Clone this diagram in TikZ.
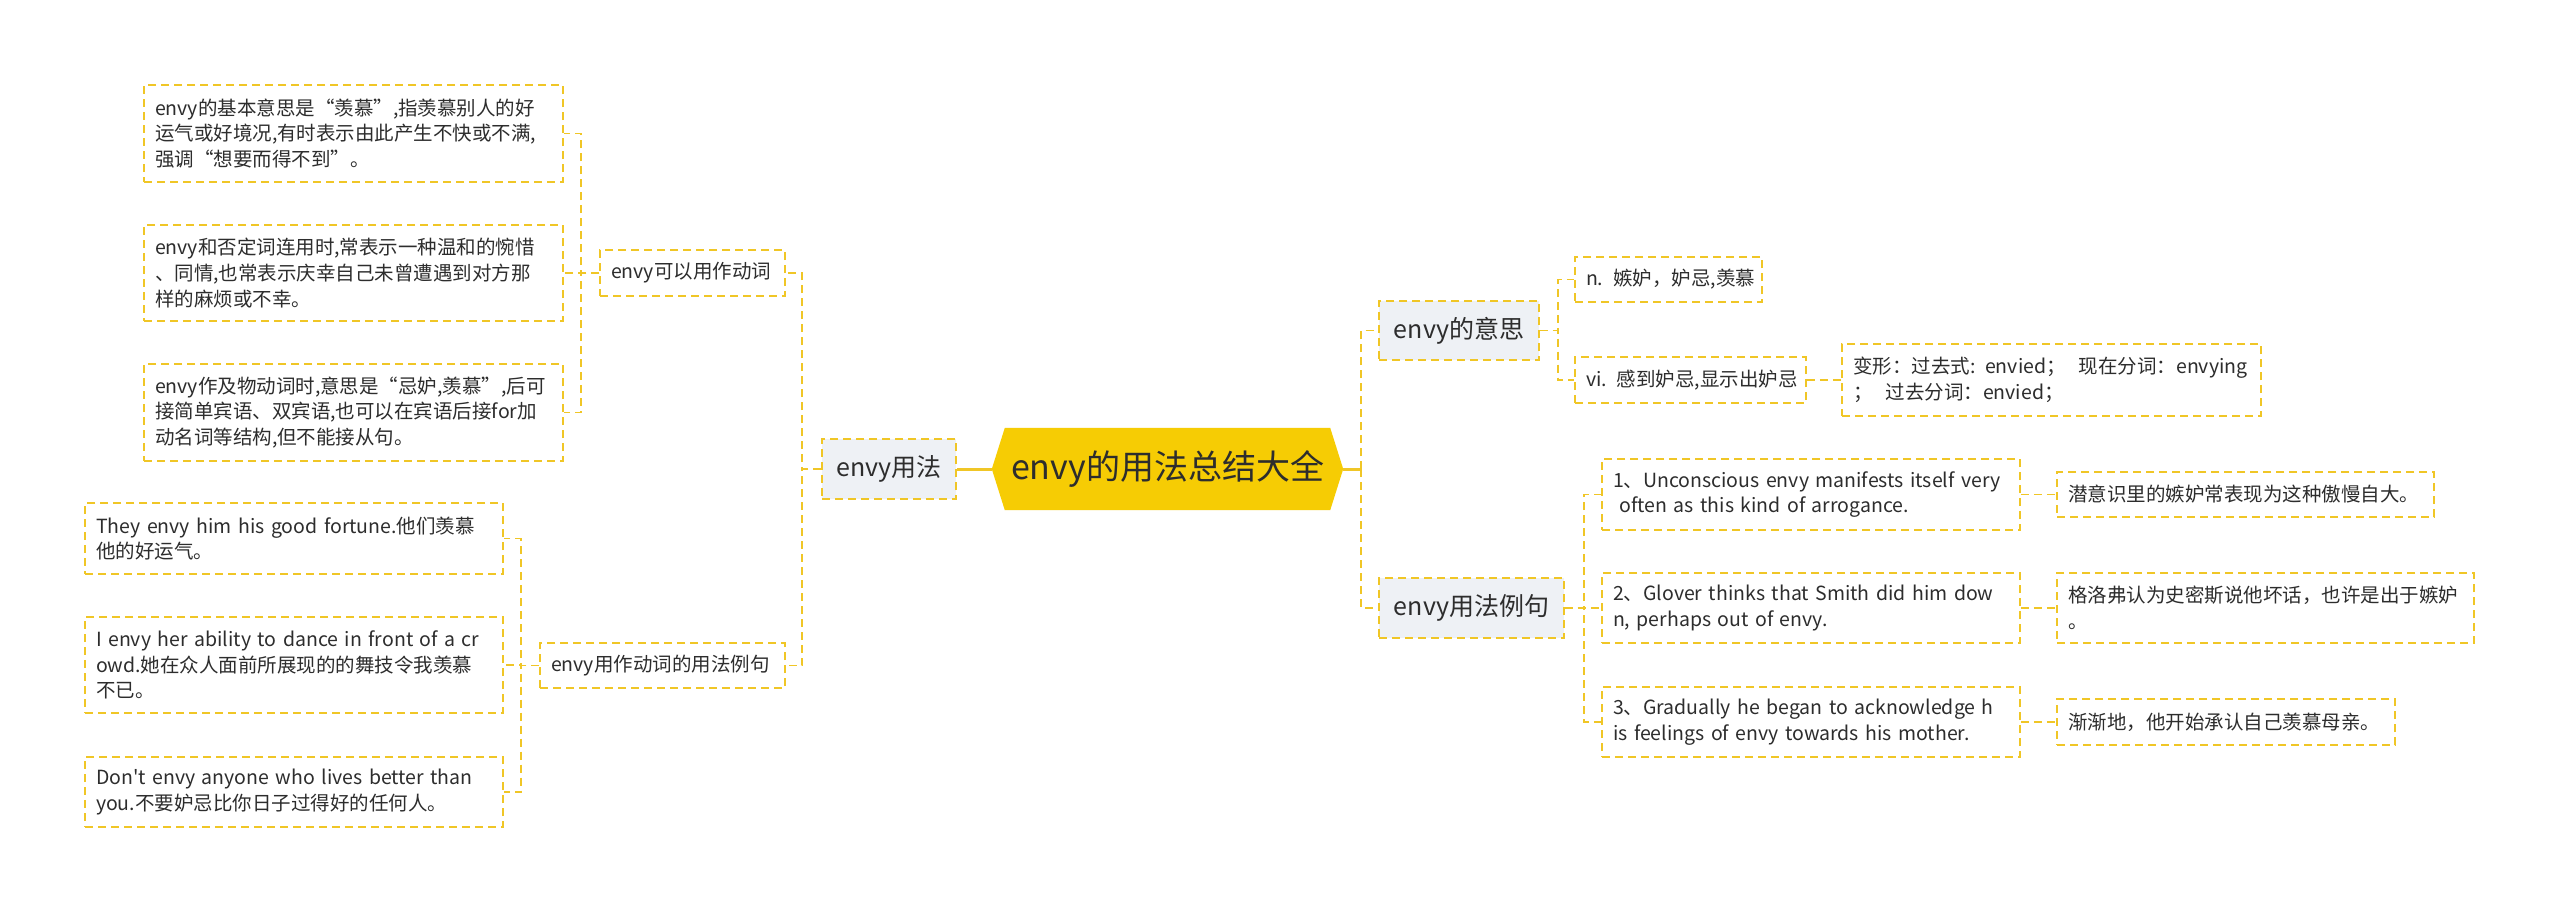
\documentclass[tikz,border=0pt]{standalone}
\usepackage{fontspec}
\setmainfont{Noto Sans CJK SC}[Ligatures=TeXOff]
\usetikzlibrary{backgrounds}
\definecolor{ylw}{RGB}{240,198,38}
\definecolor{rootfill}{RGB}{246,204,4}
\definecolor{lvfill}{RGB}{238,241,245}
\definecolor{txt}{RGB}{45,45,45}
\begin{document}
\begin{tikzpicture}[x=1pt,y=-1pt,
  every node/.style={inner sep=0pt, text=txt},
  dbox/.style={draw=ylw, line width=1.8pt, dash pattern=on 8pt off 5pt, align=left,
    inner xsep=11pt, inner ysep=0pt, font=\fontsize{19.5}{25.6}\selectfont},
  lone/.style={draw=ylw, line width=1.8pt, dash pattern=on 8pt off 5pt, fill=lvfill,
    align=center, font=\fontsize{25}{30}\selectfont},
  conn/.style={draw=ylw, line width=1.8pt, dash pattern=on 8pt off 5pt},
  solidconn/.style={draw=ylw, line width=3pt}]
\useasboundingbox (0,0) rectangle (2560,913);

% root
\node[font=\fontsize{34}{40}\selectfont, minimum width=351, minimum height=82] (root) at (1167.5,469) {envy的用法总结大全};

% level 1
\node[lone, minimum width=134, minimum height=60] (L) at (889,469) {envy用法};
\node[lone, minimum width=160, minimum height=59] (M) at (1459,330.5) {envy的意思};
\node[lone, minimum width=185, minimum height=60] (E) at (1471.5,608) {envy用法例句};

% level 2 left
\node[dbox, text width=163pt, minimum height=46] (V) at (692.5,273) {\mbox{envy可以用作动词}};
\node[dbox, text width=223pt, minimum height=45] (X) at (662.5,665.5) {\mbox{envy用作动词的用法例句}};

% leaves left top
\node[dbox, text width=397pt, minimum height=97] (a1) at (353.5,133.5)
  {envy的基本意思是“羡慕”,指羡慕别人的好\\运气或好境况,有时表示由此产生不快或不满,\\强调“想要而得不到”。};
\node[dbox, text width=397pt, minimum height=96] (a2) at (353.5,273)
  {envy和否定词连用时,常表示一种温和的惋惜\\、同情,也常表示庆幸自己未曾遭遇到对方那\\样的麻烦或不幸。};
\node[dbox, text width=397pt, minimum height=97] (a3) at (353.5,412.5)
  {envy作及物动词时,意思是“忌妒,羡慕”,后可\\接简单宾语、双宾语,也可以在宾语后接for加\\动名词等结构,但不能接从句。};

% leaves left bottom
\node[dbox, text width=396pt, minimum height=71] (b1) at (294,538.5)
  {\mbox{They envy him his good fortune.他们羡慕}\\他的好运气。};
\node[dbox, text width=396pt, minimum height=96] (b2) at (294,665)
  {\mbox{I envy her ability to dance in front of a cr}\\owd.她在众人面前所展现的的舞技令我羡慕\\不已。};
\node[dbox, text width=396pt, minimum height=70] (b3) at (294,792)
  {\mbox{Don't envy anyone who lives better than}\\you.不要妒忌比你日子过得好的任何人。};

% right: meanings
\node[dbox, text width=165pt, minimum height=45] (N) at (1668.5,279.5) {\mbox{n. 嫉妒，妒忌,羡慕}};
\node[dbox, text width=209pt, minimum height=46] (Vi) at (1690.5,380) {\mbox{vi. 感到妒忌,显示出妒忌}};
\node[dbox, text width=397pt, minimum height=72] (Bx) at (2051.5,380)
  {\mbox{变形：过去式: envied；\ \ 现在分词：envying}\\；\ \ 过去分词：envied；};

% right: examples
\node[dbox, text width=396pt, minimum height=71] (e1) at (1811,494.5)
  {\mbox{1、Unconscious envy manifests itself very}\\\mbox{\ often as this kind of arrogance.}};
\node[dbox, text width=396pt, minimum height=70] (e2) at (1811,608)
  {\mbox{2、Glover thinks that Smith did him dow}\\\mbox{n, perhaps out of envy.}};
\node[dbox, text width=396pt, minimum height=70] (e3) at (1811,722)
  {\mbox{3、Gradually he began to acknowledge h}\\\mbox{is feelings of envy towards his mother.}};
\node[dbox, text width=355pt, minimum height=45] (t1) at (2245.5,494.5) {\mbox{潜意识里的嫉妒常表现为这种傲慢自大。}};
\node[dbox, text width=395pt, minimum height=70] (t2) at (2265.5,608)
  {格洛弗认为史密斯说他坏话，也许是出于嫉妒\\。};
\node[dbox, text width=316pt, minimum height=46] (t3) at (2226,722) {\mbox{渐渐地，他开始承认自己羡慕母亲。}};

% background + root hexagon
\begin{scope}[on background layer]
\fill[white] (0,0) rectangle (2560,913);
\fill[rootfill] (root.west) -- ([xshift=13pt]root.north west) -- ([xshift=-13pt]root.north east)
  -- (root.east) -- ([xshift=-13pt]root.south east) -- ([xshift=13pt]root.south west) -- cycle;
\end{scope}

% connectors
\draw[solidconn] (root.west) -- (L.east);
\draw[solidconn] (root.east) -- ++(18,0) coordinate (rj);
\draw[conn] (rj) |- (M.west);
\draw[conn] (rj) |- (E.west);

\draw[conn] (L.west) -- ++(-19,0) |- (V.east);
\draw[conn] (L.west) -- ++(-19,0) |- (X.east);

\draw[conn] (V.west) -- ++(-18,0) |- (a1.east);
\draw[conn] (V.west) -- ++(-18,0) |- (a2.east);
\draw[conn] (V.west) -- ++(-18,0) |- (a3.east);

\draw[conn] (X.west) -- ++(-18,0) |- (b1.east);
\draw[conn] (X.west) -- ++(-18,0) |- (b2.east);
\draw[conn] (X.west) -- ++(-18,0) |- (b3.east);

\draw[conn] (M.east) -- ++(18,0) |- (N.west);
\draw[conn] (M.east) -- ++(18,0) |- (Vi.west);
\draw[conn] (Vi.east) -- (Bx.west);

\draw[conn] (E.east) -- ++(19,0) |- (e1.west);
\draw[conn] (E.east) -- ++(19,0) |- (e2.west);
\draw[conn] (E.east) -- ++(19,0) |- (e3.west);
\draw[conn] (e1.east) -- (t1.west);
\draw[conn] (e2.east) -- (t2.west);
\draw[conn] (e3.east) -- (t3.west);
\end{tikzpicture}
\end{document}
